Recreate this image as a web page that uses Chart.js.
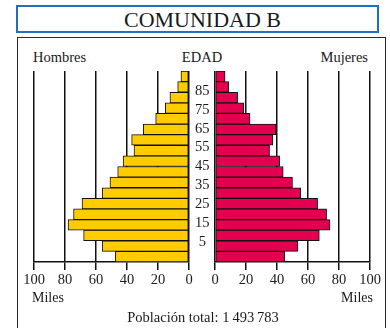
<!DOCTYPE HTML>
<html lang="es">
<head>
  <meta http-equiv="content-type" content="text/html; charset=UTF-8">
  <script src="https://cdn.jsdelivr.net/npm/chart.js"></script>
  <style>
    body { margin:0; width:390px; height:328px; overflow:hidden; background:#fff;
           font-family:"Liberation Serif", "DejaVu Serif", serif; color:#1a1a1a; position:relative; }
    .abs { position:absolute; white-space:nowrap; line-height:16px; }
    #title { position:absolute; left:16px; top:5px; width:363px; height:28px; box-sizing:border-box;
             border:2px solid #1f6fc2; text-align:center; font-size:22px; line-height:25px; padding-left:10px; }
    #frame { position:absolute; left:17px; top:37px; width:369px; height:310px; box-sizing:border-box;
             border:1.5px solid #2a2a2a; }
    .box { position:absolute; top:0; height:328px; }
  </style>
</head>
<body>
  <div id="title">COMUNIDAD B</div>
  <div id="frame"></div>

  <div class="abs" style="left:33px; top:49px; font-size:14.5px">Hombres</div>
  <div class="abs" style="left:202px; top:49px; font-size:14.5px; transform:translateX(-50%)">EDAD</div>
  <div class="abs" style="right:22px; top:49px; font-size:14.5px">Mujeres</div>

  <div class="box" style="left:0; width:215px"><canvas id="chart_men"></canvas></div>
  <div class="box" style="left:189px; width:201px"><canvas id="chart_women"></canvas></div>

  <div class="abs" style="left:32px; top:290px; font-size:14px">Miles</div>
  <div class="abs" style="right:17px; top:290px; font-size:14px">Miles</div>
  <div class="abs" style="left:203px; top:309px; font-size:14.5px; transform:translateX(-50%)">Población total: 1&#8239;493&#8239;783</div>

  <script>
    // age groups, youngest first
    const ages = ['0-4','5-9','10-14','15-19','20-24','25-29','30-34','35-39','40-44',
                  '45-49','50-54','55-59','60-64','65-69','70-74','75-79','80-84','85+'];
    // thousands of people
    const men   = [47.5, 56, 68, 78, 74.5, 69, 56, 51, 46, 42.5, 35.5, 37, 29.5, 21.5, 15.3, 12.3, 7.3, 5.2];
    const women = [45, 53.5, 67.3, 74.2, 72, 66.2, 55.3, 50, 44, 41.7, 35.2, 37.2, 39.4, 22.6, 18.5, 14.6, 8.8, 6.5];
    const ageTicks = [5, 15, 25, 35, 45, 55, 65, 75, 85];

    const serif = '"Liberation Serif", "DejaVu Serif", serif';

    function xAxis(reverse) {
        return {
            type: 'linear', min: 0, max: 100, reverse: reverse,
            ticks: { stepSize: 20, color: '#1a1a1a', font: { family: serif, size: 14.5 }, padding: 1 },
            grid: { color: '#111', lineWidth: 1.5, tickLength: 8 },
            border: { display: true, color: '#111', width: 1.5 },
            afterFit: axis => { axis.height = 66; }
        };
    }

    function bars(values, color) {
        return {
            data: values,
            backgroundColor: color,
            borderColor: '#111',
            borderWidth: 1,
            borderSkipped: false,
            barPercentage: 1,
            categoryPercentage: 1
        };
    }

    new Chart(document.getElementById('chart_men'), {
        type: 'bar',
        data: { labels: ages, datasets: [bars(men, '#ffcc00')] },
        options: {
            indexAxis: 'y',
            responsive: true, maintainAspectRatio: false, animation: false,
            layout: { padding: { left: 34, top: 71, right: 0, bottom: 0 } },
            plugins: { legend: { display: false }, tooltip: { enabled: false } },
            scales: {
                x: xAxis(true),
                y: { display: false, reverse: true },
                age: {
                    type: 'linear', position: 'right', min: 0, max: 90,
                    afterBuildTicks: axis => { axis.ticks = ageTicks.map(v => ({ value: v })); },
                    ticks: { color: '#1a1a1a', font: { family: serif, size: 14.5 }, crossAlign: 'center', padding: 6 },
                    grid: { display: false, drawTicks: false },
                    border: { display: false },
                    afterFit: axis => { axis.width = 26; }
                }
            }
        }
    });

    new Chart(document.getElementById('chart_women'), {
        type: 'bar',
        data: { labels: ages, datasets: [bars(women, '#e2004f')] },
        options: {
            indexAxis: 'y',
            responsive: true, maintainAspectRatio: false, animation: false,
            layout: { padding: { left: 26, top: 71, right: 20, bottom: 0 } },
            plugins: { legend: { display: false }, tooltip: { enabled: false } },
            scales: {
                x: xAxis(false),
                y: { display: false, reverse: true }
            }
        }
    });
  </script>
</body>
</html>
